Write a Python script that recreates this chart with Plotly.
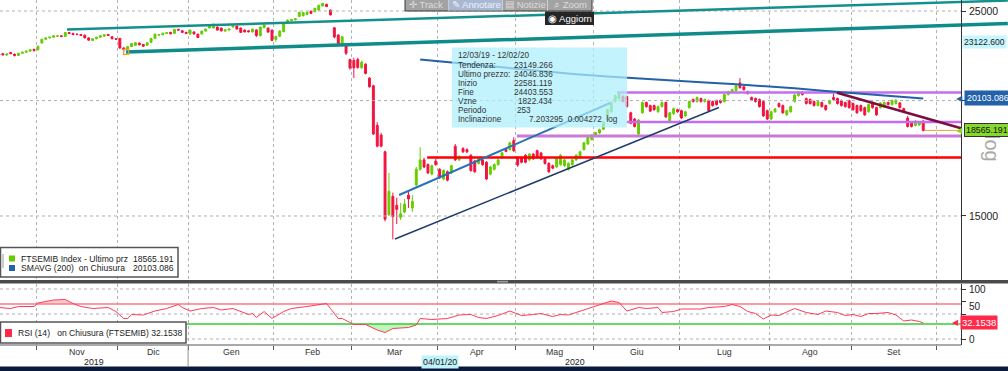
import numpy as np
import plotly.graph_objects as go

W, H = 1008, 371
FONT = "Liberation Sans, Arial, sans-serif"

# ------------------------------------------------------------------ data
month_names = ["Ott", "Nov", "Dic", "Gen", "Feb", "Mar", "Apr", "Mag", "Giu", "Lug", "Ago", "Set", "Ott"]
month_trading_days = [10, 21, 18, 22, 20, 22, 20, 20, 22, 23, 21, 22]
year_labels = ["2019", "2020"]

opens = [
    22450, 22480, 22400, 22540, 22450, 22380, 22500, 22560, 22620, 22720,
    22700, 23085, 23300, 23380, 23420, 23480, 23500, 23460, 23690, 23640, 23600, 23580, 23540, 23380, 23230, 23330, 23420, 23480, 23580, 23450, 23330,
    23350, 22800, 22720, 22880, 22950, 23080, 23000, 22950, 23120, 23350, 23550, 23560, 23640, 23700, 23650, 23880, 23800, 23700,
    23610, 23730, 23600, 23610, 23780, 23960, 23960, 24020, 23960, 23780, 23840, 24020, 24080, 23960, 23840, 23800, 23730, 23850, 23500, 23980, 23960, 23840,
    23290, 23470, 23740, 24300, 24400, 24450, 24660, 24700, 24780, 24990, 24950, 25060, 25310, 25420, 25060, 23980, 23550, 22950, 22970, 22150,
    22100, 22150, 21700, 21900, 21150, 20750, 18800, 18350, 17600, 15050, 15750, 15400, 14950, 15150, 15800, 15300, 16200, 16850, 17250, 17050, 16650, 17200,
    16850, 16450, 16750, 16700, 17850, 17250, 17750, 17700, 17450, 17200, 17100, 17250, 17150, 16650, 16850, 17050, 17350, 17700, 17700, 18100,
    17350, 17350, 17450, 17250, 17500, 17650, 17550, 17300, 17100, 17000, 16950, 17050, 17000, 16850, 17050, 17250, 17350, 17700, 17950, 18150,
    18300, 18450, 18620, 19050, 19450, 19950, 20100, 20200, 20200, 19400, 19100, 18400, 19400, 19900, 19750, 19750, 19450, 19700, 19900, 18950, 19350, 19550,
    19500, 19250, 19650, 20050, 19950, 20100, 19950, 20000, 19950, 20000, 20000, 19950, 20300, 20420, 20500, 20900, 20700, 20450, 20150, 20100, 20050, 19950, 19500,
    19100, 19450, 19850, 19750, 19300, 19450, 19950, 20250, 20420, 20100, 20050, 19950, 19750, 19900, 19750, 19850, 20150, 20100, 20000, 19900, 20000,
    19850, 19750, 19750, 19650, 19450, 19900, 19650, 19650, 19680, 19900, 19800, 19850, 19880, 19600, 19150, 18950, 18800, 18820, 19000,
]
highs = [
    22500, 22520, 22490, 22580, 22480, 22520, 22590, 22650, 22720, 22760,
    22930, 23330, 23400, 23450, 23520, 23540, 23530, 23720, 23730, 23680, 23640, 23610, 23570, 23410, 23360, 23440, 23520, 23580, 23610, 23480, 23370,
    23380, 22840, 22900, 23080, 23130, 23110, 23030, 23130, 23380, 23630, 23600, 23680, 23710, 23740, 23900, 23920, 23830, 23740,
    23870, 23760, 23630, 23800, 23920, 24160, 24220, 24050, 23990, 23880, 23930, 24150, 24110, 23990, 23870, 23830, 23920, 23880, 24050, 24170, 23990, 23870,
    23500, 23820, 24280, 24470, 24510, 24550, 24950, 24930, 24950, 25020, 25200, 25390, 25510, 25450, 25090, 24010, 23580, 23500, 23000, 22200,
    22250, 22250, 22100, 21950, 21200, 20800, 18950, 18450, 17650, 16700, 15900, 15700, 15500, 15650, 16000, 15800, 16950, 17800, 17350, 17100, 17050, 17300,
    16900, 16850, 16800, 17050, 17950, 17450, 17800, 17750, 17500, 17250, 17350, 17300, 17200, 17000, 17100, 17300, 17600, 17750, 18050, 18250,
    17400, 17400, 17500, 17550, 17550, 17700, 17600, 17350, 17150, 17050, 17350, 17500, 17300, 17150, 17300, 17500, 17650, 18050, 18300, 18400,
    18500, 18650, 19000, 19600, 19950, 20300, 20450, 20280, 20250, 19450, 19150, 19100, 19950, 19950, 19800, 19800, 19750, 19950, 19950, 19450, 19650, 19600,
    19550, 19500, 20000, 20100, 20200, 20150, 20100, 20050, 20000, 20050, 20050, 20350, 20500, 20600, 20800, 21150, 20750, 20500, 20200, 20150, 20100, 20000, 19550,
    19500, 19630, 19900, 19800, 19550, 19750, 20330, 20480, 20480, 20150, 20100, 20000, 20000, 19950, 19800, 20050, 20400, 20150, 20050, 19950, 20050,
    19900, 19800, 19800, 19700, 19850, 19950, 19700, 19930, 19950, 19950, 20050, 20070, 19930, 19650, 19250, 19000, 19050, 19000, 19050,
]
lows = [
    22370, 22380, 22360, 22450, 22330, 22360, 22470, 22530, 22590, 22600,
    22660, 23050, 23260, 23340, 23390, 23440, 23420, 23440, 23610, 23540, 23540, 23490, 23350, 23220, 23200, 23300, 23390, 23450, 23490, 23300, 23260,
    22750, 22580, 22690, 22850, 22920, 22950, 22860, 22920, 23090, 23330, 23500, 23530, 23610, 23590, 23630, 23800, 23680, 23620,
    23580, 23580, 23380, 23580, 23750, 23940, 23940, 23810, 23760, 23750, 23810, 24000, 23870, 23670, 23700, 23710, 23700, 23430, 23480, 23960, 23690, 23200,
    23150, 23440, 23720, 24280, 24380, 24420, 24640, 24680, 24760, 24820, 24930, 25040, 25290, 25250, 24730, 23350, 23000, 22900, 22400, 21600,
    21150, 21650, 21650, 21350, 20650, 18350, 17800, 17800, 14800, 15000, 14150, 14700, 14850, 15100, 15300, 15150, 16150, 16800, 16900, 16650, 16600, 17000,
    16450, 16400, 16350, 16650, 17200, 17200, 17550, 17550, 16750, 16700, 17050, 17000, 16400, 16600, 16800, 17000, 17300, 17580, 17650, 17600,
    16950, 17100, 17100, 17200, 17250, 17300, 17250, 17050, 16700, 16850, 16900, 17000, 16950, 16800, 17000, 17200, 17300, 17650, 17900, 18100,
    18250, 18400, 18580, 19000, 19400, 19900, 20050, 19900, 19650, 18850, 18700, 18350, 19350, 19650, 19430, 19500, 19400, 19650, 19150, 18900, 19300, 19400,
    19100, 19200, 19600, 19900, 19900, 19900, 19900, 19450, 19700, 19750, 19850, 19900, 20250, 20380, 20450, 20600, 20500, 20300, 20000, 19900, 19650, 19200, 19050,
    19050, 19400, 19650, 19350, 19250, 19400, 19900, 20200, 20250, 19800, 19800, 19700, 19700, 19650, 19500, 19800, 20000, 19800, 19700, 19650, 19600,
    19500, 19350, 19450, 19250, 19400, 19600, 19250, 19600, 19630, 19750, 19750, 19800, 19600, 19400, 18700, 18700, 18750, 18780, 18520,
]
closes = [
    22400, 22410, 22460, 22480, 22370, 22500, 22560, 22620, 22700, 22650,
    22900, 23300, 23380, 23420, 23500, 23500, 23460, 23700, 23640, 23570, 23580, 23530, 23380, 23250, 23330, 23420, 23500, 23560, 23520, 23330, 23300,
    22800, 22700, 22880, 23050, 23100, 22980, 22900, 23100, 23350, 23600, 23560, 23650, 23680, 23620, 23880, 23840, 23700, 23650,
    23840, 23610, 23400, 23780, 23900, 24140, 24200, 23840, 23790, 23860, 23900, 24120, 23900, 23700, 23730, 23740, 23900, 23520, 24020, 24150, 23720, 23230,
    23470, 23790, 24250, 24440, 24480, 24520, 24920, 24900, 24920, 24850, 25170, 25360, 25480, 25280, 24760, 23430, 23050, 23450, 22500, 21690,
    21700, 21720, 22000, 21400, 20700, 18400, 17850, 17850, 14880, 15950, 14980, 15250, 15080, 15450, 15650, 15550, 16850, 17250, 16950, 16700, 17000, 17050,
    16500, 16800, 16400, 17000, 17250, 17380, 17600, 17600, 16800, 16750, 17300, 17050, 16450, 16950, 17050, 17250, 17560, 17620, 18000, 17650,
    17030, 17150, 17150, 17500, 17300, 17350, 17300, 17100, 16750, 16900, 17300, 17450, 17250, 17100, 17250, 17450, 17600, 18000, 18250, 18350,
    18470, 18600, 18950, 19550, 19900, 20250, 20380, 19950, 19700, 18900, 18750, 19050, 19900, 19700, 19480, 19550, 19700, 19900, 19200, 19400, 19600, 19450,
    19150, 19450, 19950, 19950, 20150, 19950, 20050, 19500, 19750, 19800, 19900, 20300, 20450, 20550, 20750, 20650, 20550, 20350, 20050, 19950, 19700, 19250, 19100,
    19450, 19580, 19700, 19400, 19500, 19700, 20280, 20420, 20300, 19850, 19850, 19750, 19950, 19700, 19550, 20000, 20050, 19850, 19750, 19700, 19650,
    19550, 19400, 19500, 19300, 19800, 19650, 19300, 19880, 19900, 19800, 20000, 20020, 19650, 19450, 18750, 18750, 19000, 18950, 18565.191,
]

# SMAVG(200) read at sample days (trading-day index, value)
sma_idx = [108, 116, 124, 132, 140, 148, 156, 164, 172, 180, 188, 196, 204, 212, 220, 228, 237]
sma_val = [22150, 21980, 21820, 21660, 21500, 21350, 21230, 21120, 21020, 20930, 20840, 20740, 20620, 20480, 20350, 20220, 20103.086]

# RSI(14) read at sample days
rsi_idx = [0, 3, 5, 9, 10, 14, 17, 19, 21, 24, 28, 30, 32, 33, 34, 37, 40, 43, 46, 47, 49, 52, 55, 57, 60,
           64, 65, 66, 68, 70, 73, 75, 79, 82, 84, 85, 87, 88, 91, 94, 97, 99, 101, 105, 107, 108, 111, 115,
           118, 121, 123, 125, 128, 131, 134, 137, 139, 142, 144, 146, 150, 152, 155, 157, 159, 161, 164, 166,
           169, 170, 173, 175, 180, 182, 186, 188, 190, 192, 194, 196, 198, 200, 204, 207, 210, 212, 215, 217,
           219, 221, 223, 225, 228, 230, 232, 234, 236, 237]
rsi_val = [63, 61, 65, 65, 72, 78, 79, 71, 65, 61, 63, 55, 41, 41, 49, 48, 56, 61, 69, 63, 56, 61, 63, 58, 61,
           49, 51, 43, 55, 41, 55, 61, 65, 69, 71, 61, 41, 41, 29, 29, 18, 13, 21, 23, 28, 41, 39, 41,
           48, 49, 43, 41, 47, 56, 47, 49, 51, 45, 49, 48, 58, 63, 71, 76, 73, 56, 63, 61,
           63, 53, 55, 60, 60, 63, 65, 69, 65, 55, 51, 40, 48, 47, 61, 53, 49, 56, 53, 47,
           49, 45, 51, 51, 53, 48, 36, 38, 35, 32.1538]

last_price = 18565.191
last_sma = 20103.086
last_rsi = 32.1538
trend_tag = 23122.600
rsi_upper, rsi_lower = 70, 30
price_grid = [15000, 20000, 25000]
price_labels = ["15000", "25000"]
rsi_grid = [0, 50, 100]
rsi_labels = ["0", "50", "100"]

# user drawings: ([start idx, end idx], [start price, end price])
teal_upper = ([17.45, 258.7], [23875, 25660])
teal_lower = ([32.6, 258.7], [22575, 24228])
blue_channel = ([102.6, 156.7], [15805, 19878])
navy_channel = ([101.55, 184.6], [14165, 19655])
red_support = ([109.8, 246.7], [17350, 17350])
violet_top = ([158.5, 246.7], [20405, 20405])
violet_mid = ([161.0, 246.7], [18960, 18960])
violet_low = ([132.8, 246.7], [18310, 18310])
maroon_trend = ([214.9, 246.7], [20393, 18665])
last_line = ([237.3, 246.7], [last_price, last_price])
anchor_point = ([32.6], [22575])

tooltip_labels = ["12/03/19 - 12/02/20", "Tendenza:", "Ultimo prezzo:", "Inizio", "Fine", "Vzne", "Periodo", "Inclinazione"]
tooltip_values = ["", "23149.266", "24046.836", "22581.119", "24403.553", "1822.434", "253", "7.203295  0.004272  log"]

# ------------------------------------------------------------------ geometry helpers (pixels -> paper)
def X(px):
    return px / W

def Y(py):
    return 1 - py / H

X_LEFT, X_RIGHT = 0.269, 258.73
X_PLOT_END = 246.7
AXIS_X = 961

cum = np.cumsum(month_trading_days)
boundaries = [float(c) - 0.5 for c in cum]          # first day of Nov ... first day of Oct
centers = [(boundaries[k] + boundaries[k + 1]) / 2 for k in range(len(boundaries) - 1)]
center_names = month_names[1:len(boundaries)]
idx = list(range(len(closes)))

UP, DN = "#66cc00", "#f3123e"

fig = go.Figure()

def line_trace(xs, ys, color, width, yaxis="y", dash="solid"):
    fig.add_trace(go.Scatter(x=xs, y=ys, mode="lines", line=dict(color=color, width=width, dash=dash),
                             yaxis=yaxis, xaxis="x", hoverinfo="skip", showlegend=False))

# grid lines (horizontal)
for v in price_grid:
    line_trace([X_LEFT, X_PLOT_END], [v, v], "#b0b0b0", 1, dash="dot")
for v in rsi_grid:
    line_trace([X_LEFT, X_PLOT_END], [v, v], "#b0b0b0", 1, yaxis="y2", dash="dot")

# candles
fig.add_trace(go.Candlestick(
    x=idx, open=opens, high=highs, low=lows, close=closes,
    increasing=dict(line=dict(color=UP, width=1), fillcolor=UP),
    decreasing=dict(line=dict(color=DN, width=1), fillcolor=DN),
    whiskerwidth=0, xaxis="x", yaxis="y", showlegend=False, hoverinfo="skip"))

# drawings
line_trace(*red_support, "#ff0000", 2.5)
line_trace(*violet_low, "#c97ad8", 3)
line_trace(*violet_mid, "#c46cf2", 2.5)
line_trace(*violet_top, "#c46cf2", 2.5)
line_trace(*navy_channel, "#1d3d6c", 1.5)
line_trace(*blue_channel, "#2a72b8", 2)
line_trace(sma_idx, sma_val, "#2361a9", 2)
line_trace(*maroon_trend, "#7a0f3e", 2.5)
line_trace(*last_line, "#f4a12e", 1)
line_trace(*teal_upper, "#12908d", 2.5)
line_trace(*teal_lower, "#0f8c89", 3.5)
fig.add_trace(go.Scatter(x=anchor_point[0], y=anchor_point[1], mode="markers",
                         marker=dict(symbol="square-open", size=5, color="#f0a020", line=dict(width=1.2)),
                         xaxis="x", yaxis="y", hoverinfo="skip", showlegend=False))

# RSI panel
rsi_arr = np.array(rsi_val, dtype=float)
line_trace(rsi_idx, [rsi_upper] * len(rsi_idx), "rgba(0,0,0,0)", 0, yaxis="y2")
fig.add_trace(go.Scatter(x=rsi_idx, y=np.maximum(rsi_arr, rsi_upper), mode="lines", line=dict(width=0),
                         fill="tonexty", fillcolor="rgba(255,160,170,0.55)", xaxis="x", yaxis="y2",
                         hoverinfo="skip", showlegend=False))
line_trace(rsi_idx, [rsi_lower] * len(rsi_idx), "rgba(0,0,0,0)", 0, yaxis="y2")
fig.add_trace(go.Scatter(x=rsi_idx, y=np.minimum(rsi_arr, rsi_lower), mode="lines", line=dict(width=0),
                         fill="tonexty", fillcolor="rgba(150,240,140,0.6)", xaxis="x", yaxis="y2",
                         hoverinfo="skip", showlegend=False))
line_trace([X_LEFT, X_PLOT_END], [rsi_upper, rsi_upper], "#ff7a80", 1.5, yaxis="y2")
line_trace([X_LEFT, X_PLOT_END], [rsi_lower, rsi_lower], "#33cc33", 1.5, yaxis="y2")
line_trace(rsi_idx, rsi_val, "#ff3a5c", 1, yaxis="y2")

# ------------------------------------------------------------------ shapes
shapes = []
def rect(x0, y0, x1, y1, fill, line_color=None, lw=0, xref="paper", yref="paper", layer="above"):
    shapes.append(dict(type="rect", xref=xref, yref=yref, x0=x0, x1=x1, y0=y0, y1=y1,
                       fillcolor=fill, line=dict(color=line_color or fill, width=lw), layer=layer))

def seg(x0, y0, x1, y1, color, lw=1, xref="paper", yref="paper", dash="solid"):
    shapes.append(dict(type="line", xref=xref, yref=yref, x0=x0, x1=x1, y0=y0, y1=y1,
                       line=dict(color=color, width=lw, dash=dash), layer="above"))

# cyan statistics box (semi transparent, over the candles)
rect(X(452), Y(127.5), X(627), Y(47.5), "rgba(172,238,252,0.72)")
# panel separator
rect(0, Y(283.5), 1, Y(280), "#4a4a4a")
rect(X(497), Y(282.5), X(508), Y(280.8), "#9c9c9c")
# RSI bottom frame
seg(0, Y(345), X(AXIS_X), Y(345), "#555555", 1)
# year separator
seg(boundaries[2], Y(366), boundaries[2], Y(345), "#909090", 1, xref="x")
# bottom dark strip
rect(0, 0, 1, Y(366.5), "#0b1a3b")
# legends
rect(X(0.5), Y(277), X(178), Y(247.5), "white", "#555555", 1.5)
rect(X(9), Y(261.5), X(15), Y(255.5), UP)
rect(X(9), Y(271), X(15), Y(265), "#2361a9")
seg(X(3), Y(254), X(3), Y(268), "#999999", 1)
rect(X(0.5), Y(343), X(186), Y(322), "white", "#555555", 1.5)
rect(X(5), Y(337), X(12), Y(329), "#ff2a4a")
# toolbar
rect(X(405), Y(11), X(592), Y(-2), "#a3a3a3", "#3a3a3a", 1)
rect(X(449), Y(10.5), X(502), Y(-2), "#a9b8d2")
for bx in [448.5, 502.5, 547.5]:
    seg(X(bx), Y(10.5), X(bx), Y(0), "#cfcfcf", 1)
rect(X(545), Y(25), X(594), Y(11.5), "#262626")

fig.update_layout(shapes=shapes)

# ------------------------------------------------------------------ annotations
anns = []
def txt(text, x, y, size=10, color="#222222", xanchor="left", yanchor="middle", xref="paper", yref="paper",
        bg=None, border=None, textangle=0, pad=1):
    d = dict(text=text, x=x, y=y, xref=xref, yref=yref, xanchor=xanchor, yanchor=yanchor,
             showarrow=False, font=dict(family=FONT, size=size, color=color), textangle=textangle)
    if bg:
        d["bgcolor"] = bg
        d["borderpad"] = pad
    if border:
        d["bordercolor"] = border
        d["borderwidth"] = 1
    anns.append(d)

# vertical "log" watermark (drawn first so the tags sit on top of it)
txt("log", X(992), Y(148), size=20, color="#a9a9a9", xanchor="center", textangle=90)

# tooltip text
rows = [55.7, 65, 74, 83, 92.3, 101.3, 110.3, 119.7]
TT = 8.2
for k, (lab, val) in enumerate(zip(tooltip_labels, tooltip_values)):
    txt(lab, X(456), Y(rows[k]), size=TT, color="#333333")
    if lab == "Periodo":
        txt(val, X(515), Y(rows[k]), size=TT, color="#333333")
    elif lab == "Inclinazione":
        txt(val.replace(" ", "\u00a0"), X(620), Y(rows[k]), size=TT, color="#333333", xanchor="right")
    elif val:
        txt(val, X(555), Y(rows[k]), size=TT, color="#333333", xanchor="right")

# legend text
LG = 8.6
txt("FTSEMIB Index - Ultimo prz", X(19), Y(258.5), size=LG)
txt(f"{last_price:.3f}", X(176), Y(258.5), size=LG, xanchor="right")
txt("SMAVG (200)\u00a0\u00a0on Chiusura", X(19), Y(268), size=LG)
txt(f"{last_sma:.3f}", X(176), Y(268), size=LG, xanchor="right")
txt(f"RSI (14)\u00a0\u00a0 on Chiusura (FTSEMIB) {last_rsi:.4f}", X(16), Y(333), size=LG)

# axis labels on the right
for v, lab in zip([price_grid[0], price_grid[2]], price_labels):
    txt(lab, X(967), np.log10(v), size=10.5, yref="y")
for v, lab in zip(rsi_grid, rsi_labels):
    txt(lab, X(967), v, size=10, yref="y2", yanchor="bottom" if lab == "50" else "middle")

# right side tags
txt(f"{trend_tag:.3f}", X(962), np.log10(trend_tag), size=8.6, color="#222222", yref="y", bg="#c6f6ff")
txt("\u25c0", X(965), np.log10(last_sma), size=8, color="#2361a9", yref="y", xanchor="right")
txt(f"{last_sma:.3f}", X(964), np.log10(last_sma), size=8.8, color="white", yref="y", bg="#2361a9", pad=2)
txt("\u25c0", X(965), np.log10(last_price), size=8, color="#86d92a", yref="y", xanchor="right")
txt(f"{last_price:.3f}", X(964), np.log10(last_price), size=8.8, color="#111111", yref="y",
    bg="#86d92a", border="#333333", pad=1)
txt("\u25c0", X(961), last_rsi, size=8, color="#ff2a4a", yref="y2", xanchor="right")
txt(f"{last_rsi:.4f}", X(960), last_rsi, size=9.5, color="white", yref="y2", bg="#ff2a4a", pad=1)

# month labels, years and crosshair date
for c, name in zip(centers, center_names):
    txt(name, c, Y(352), size=8.8, color="#333333", xanchor="center", xref="x")
txt(year_labels[0], (X_LEFT + boundaries[2]) / 2, Y(361.5), size=8.8, xanchor="center", xref="x")
txt(year_labels[1], (boundaries[2] + X_PLOT_END) / 2, Y(361.5), size=8.8, xanchor="center", xref="x")
txt("04/01/20", boundaries[5] + 0.5, Y(361.5), size=8.8, xanchor="center", xref="x", bg="#bff3fb", pad=1)

# toolbar labels
txt("\u271b Track", X(426), Y(4.5), size=9.5, color="#dcdcdc", xanchor="center")
txt("\u270e Annotare", X(476), Y(4.5), size=9.5, color="#eef2f8", xanchor="center")
txt("\u25a4 Notizie", X(525), Y(4.5), size=9.5, color="#dcdcdc", xanchor="center")
txt("\u2315 Zoom", X(570), Y(4.5), size=9.5, color="#dcdcdc", xanchor="center")
txt("\u25c9 Aggiorn", X(569.5), Y(18.5), size=9.5, color="white", xanchor="center")

fig.update_layout(annotations=anns)

# ------------------------------------------------------------------ axes / layout
fig.update_layout(
    width=W, height=H, autosize=False,
    margin=dict(l=0, r=0, t=0, b=0),
    paper_bgcolor="white", plot_bgcolor="white",
    showlegend=False,
    font=dict(family=FONT, size=10, color="#222222"),
    xaxis=dict(
        domain=[0, 1], range=[X_LEFT, X_RIGHT], anchor="y2",
        showgrid=True, gridcolor="#b3b3b3", griddash="dot", gridwidth=1,
        zeroline=False, showline=False,
        tickmode="array", tickvals=boundaries, ticks="outside", ticklen=4, tickcolor="#555555",
        showticklabels=False,
        rangeslider=dict(visible=False),
    ),
    yaxis=dict(
        domain=[1 - 280 / H, 1], type="log", range=[4.10681, 4.40985],
        anchor="free", position=AXIS_X / W, side="right",
        showgrid=False, zeroline=False, showline=True, linecolor="#333333", linewidth=1,
        ticks="outside", ticklen=4, tickcolor="#333333",
        tickvals=price_grid, showticklabels=False,
    ),
    yaxis2=dict(
        domain=[1 - 345 / H, 1 - 284 / H], range=[-12, 110],
        anchor="free", position=AXIS_X / W, side="right",
        showgrid=False, zeroline=False, showline=True, linecolor="#333333", linewidth=1,
        ticks="outside", ticklen=4, tickcolor="#333333",
        tickvals=[0, 50, 75, 100], showticklabels=False,
    ),
)

fig.write_html("out.html", config={"displayModeBar": False, "staticPlot": True})

# remove the default page margin so the figure fills the window exactly
with open("out.html", "r", encoding="utf-8") as f:
    html = f.read()
html = html.replace("<head>", "<head><style>html,body{margin:0;padding:0;overflow:hidden;}</style>", 1)
with open("out.html", "w", encoding="utf-8") as f:
    f.write(html)
